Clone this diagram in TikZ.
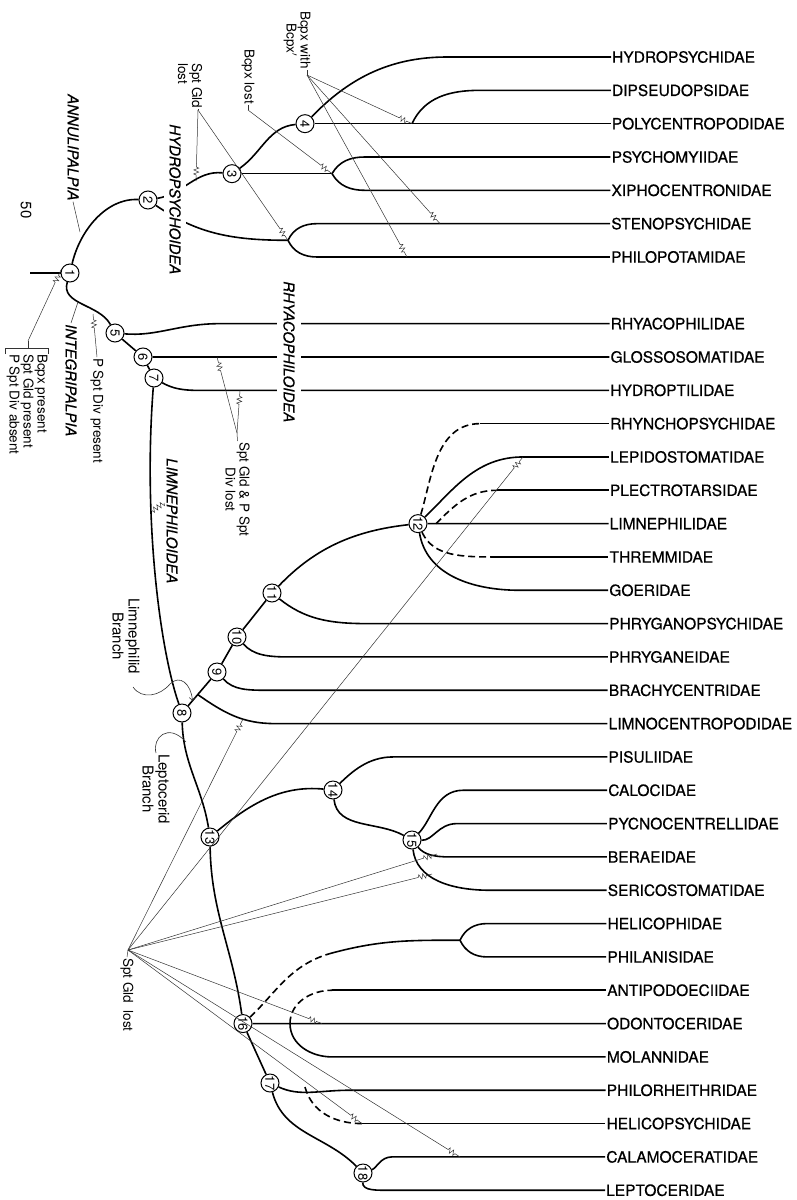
\documentclass[tikz,border=0pt]{standalone}
\usepackage{fontspec}
\setmainfont{TeX Gyre Heros}
\usetikzlibrary{calc, arrows.meta, decorations.pathmorphing}

\tikzset{
    branch/.style={line width=1.6pt},
    dashbranch/.style={branch, dash pattern=on 7pt off 4pt},
    leader/.style={line width=0.5pt, draw=black!80},
    squig/.style={decoration={zigzag, segment length=4pt, amplitude=2.5pt}},
    knot/.style={circle, draw, line width=1pt, fill=white, minimum size=18pt, inner sep=0pt, rotate=-90, font=\fontsize{13}{13}\selectfont},
    family/.style={anchor=west, inner sep=1pt, font=\fontsize{15.5}{15.5}\selectfont\addfontfeature{FakeBold=0.6}},
    superfam/.style={rotate=-90, anchor=west, inner sep=1pt, font=\fontsize{15}{15}\selectfont\itshape\addfontfeature{FakeBold=0.4}},
    note/.style={rotate=-90, anchor=west, inner sep=1pt, align=left, font=\fontsize{13.5}{14}\selectfont}
}
% thin leader ending in a small squiggle
\newcommand{\leadto}[2]{\draw[leader] (#1) -- ($(#2)!14pt!(#1)$) decorate[squig] {-- ($(#2)!5pt!(#1)$)} -- (#2);}

\begin{document}
\begin{tikzpicture}[x=1pt, y=-1pt]
\useasboundingbox (0,0) rectangle (796,1200);

% families
\foreach \slot/\fam in {1/HYDROPSYCHIDAE, 2/DIPSEUDOPSIDAE, 3/POLYCENTROPODIDAE, 4/PSYCHOMYIIDAE, 5/XIPHOCENTRONIDAE, 6/STENOPSYCHIDAE, 7/PHILOPOTAMIDAE, 9/RHYACOPHILIDAE, 10/GLOSSOSOMATIDAE, 11/HYDROPTILIDAE, 12/RHYNCHOPSYCHIDAE, 13/LEPIDOSTOMATIDAE, 14/PLECTROTARSIDAE, 15/LIMNEPHILIDAE, 16/THREMMIDAE, 17/GOERIDAE, 18/PHRYGANOPSYCHIDAE, 19/PHRYGANEIDAE, 20/BRACHYCENTRIDAE, 21/LIMNOCENTROPODIDAE, 22/PISULIIDAE, 23/CALOCIDAE, 24/PYCNOCENTRELLIDAE, 25/BERAEIDAE, 26/SERICOSTOMATIDAE, 27/HELICOPHIDAE, 28/PHILANISIDAE, 29/ANTIPODOECIIDAE, 30/ODONTOCERIDAE, 31/MOLANNIDAE, 32/PHILORHEITHRIDAE, 33/HELICOPSYCHIDAE, 34/CALAMOCERATIDAE, 35/LEPTOCERIDAE}{
    \pgfmathsetmacro{\yy}{57+33.33*(\slot-1)}
    \pgfmathsetmacro{\xx}{611-6*(\slot-1)/34}
    \node[family] (\fam) at (\xx,\yy) {\fam};
}

% numbered knots
\node[knot] (n1) at (70,273) {1};
\node[knot] (n2) at (148,200) {2};
\node[knot] (n3) at (232,173.66) {3};
\node[knot] (n4) at (305,123.66) {4};
\node[knot] (n5) at (115,333) {5};
\node[knot] (n6) at (143,356.97) {6};
\node[knot] (n7) at (154,378) {7};
\node[knot] (n8) at (182,713) {8};
\node[knot] (n9) at (217,672) {9};
\node[knot] (n10) at (237,637) {10};
\node[knot] (n11) at (272,593) {11};
\node[knot] (n12) at (418,523.62) {12};
\node[knot] (n13) at (210,837) {13};
\node[knot] (n14) at (333,790) {14};
\node[knot] (n15) at (412,840) {15};
\node[knot] (n16) at (243,1023.57) {16};
\node[knot] (n17) at (270,1083) {17};
\node[knot] (n18) at (363,1173) {18};

% fork points
\coordinate (root) at (30,273);
\coordinate (f34) at (332,173.66);
\coordinate (fdip) at (412,123.66);
\coordinate (f67) at (288,240.3);
\coordinate (f8) at ($(n8)!0.45!(n9)$);
\coordinate (fpl) at (436,523.62);
\coordinate (hdash) at (332,953);
\coordinate (fhel) at (460,940.2);
\coordinate (fmol) at (290,1023.57);
\coordinate (fhps) at (305,1087);
\coordinate (dRhy) at (RHYNCHOPSYCHIDAE.west -| 480,0);
\coordinate (dPle) at (PLECTROTARSIDAE.west -| 497,0);
\coordinate (dThr) at (THREMMIDAE.west -| 497,0);
\coordinate (dAnt) at (ANTIPODOECIIDAE.west -| 332,0);
\coordinate (dHps) at (HELICOPSYCHIDAE.west -| 362,0);

% Annulipalpia
\draw[branch] (root) -- (n1);
\draw[branch] (n1) to[out=90,in=190] (n2);
\draw[branch] (n1) to[out=-90,in=135] (n5);
\draw[branch] (n2) to[out=25,in=190] (n3);
\draw[branch] (n2) to[out=-25,in=180] (f67);
\draw[branch] (f67) to[out=65,in=180] (STENOPSYCHIDAE.west -| 317,0) -- (STENOPSYCHIDAE.west);
\draw[branch] (f67) to[out=-65,in=180] (PHILOPOTAMIDAE.west -| 317,0) -- (PHILOPOTAMIDAE.west);
\draw[branch] (n3) to[out=50,in=200] (n4);
\draw[branch] (n3) -- (f34);
\draw[branch] (f34) to[out=60,in=180] (PSYCHOMYIIDAE.west -| 365,0) -- (PSYCHOMYIIDAE.west);
\draw[branch] (f34) to[out=-60,in=180] (XIPHOCENTRONIDAE.west -| 365,0) -- (XIPHOCENTRONIDAE.west);
\draw[branch] (n4) to[out=55,in=180] (HYDROPSYCHIDAE.west -| 447,0) -- (HYDROPSYCHIDAE.west);
\draw[branch] (n4) -- (POLYCENTROPODIDAE.west);
\draw[branch] (fdip) to[out=65,in=180] (DIPSEUDOPSIDAE.west -| 480,0) -- (DIPSEUDOPSIDAE.west);

% Rhyacophiloidea
\draw[branch] (n5) -- (n6) -- (n7);
\draw[branch] (n5) to[out=8,in=180] (RHYACOPHILIDAE.west -| 220,0) -- (RHYACOPHILIDAE.west);
\draw[branch] (n6) -- (GLOSSOSOMATIDAE.west);
\draw[branch] (n7) to[out=-10,in=180] (HYDROPTILIDAE.west -| 220,0) -- (HYDROPTILIDAE.west);

% Limnephilid branch
\draw[branch] (n7) .. controls (143,520) and (160,650) .. (n8);
\draw[branch] (n8) -- (n9) -- (n10) -- (n11);
\draw[branch] (f8) to[out=-35,in=180] (LIMNOCENTROPODIDAE.west -| 275,0) -- (LIMNOCENTROPODIDAE.west);
\draw[branch] (n9) to[out=-25,in=180] (BRACHYCENTRIDAE.west -| 270,0) -- (BRACHYCENTRIDAE.west);
\draw[branch] (n10) to[out=-25,in=180] (PHRYGANEIDAE.west -| 290,0) -- (PHRYGANEIDAE.west);
\draw[branch] (n11) to[out=-25,in=180] (PHRYGANOPSYCHIDAE.west -| 367,0) -- (PHRYGANOPSYCHIDAE.west);
\draw[branch] (n11) to[out=55,in=195] (n12);
\draw[branch] (n12) -- (LIMNEPHILIDAE.west);
\draw[branch] (n12) to[out=55,in=180] (LEPIDOSTOMATIDAE.west -| 523,0) -- (LEPIDOSTOMATIDAE.west);
\draw[branch] (n12) to[out=-70,in=180] (GOERIDAE.west -| 520,0) -- (GOERIDAE.west);
\draw[dashbranch] (n12) to[out=85,in=180] (dRhy);
\draw[branch] (dRhy) -- (RHYNCHOPSYCHIDAE.west);
\draw[dashbranch] (fpl) to[out=45,in=180] (dPle);
\draw[branch] (dPle) -- (PLECTROTARSIDAE.west);
\draw[dashbranch] (n12) to[out=-50,in=180] (dThr);
\draw[branch] (dThr) -- (THREMMIDAE.west);

% Leptocerid branch
\draw[branch] (n8) to[out=-78,in=110] (n13);
\draw[branch] (n13) to[out=50,in=185] (n14);
\draw[branch] (n14) to[out=65,in=180] (PISULIIDAE.west -| 393,0) -- (PISULIIDAE.west);
\draw[branch] (n14) to[out=-70,in=165] (n15);
\draw[branch] (n15) to[out=65,in=180] (CALOCIDAE.west -| 463,0) -- (CALOCIDAE.west);
\draw[branch] (n15) to[out=25,in=180] (PYCNOCENTRELLIDAE.west -| 457,0) -- (PYCNOCENTRELLIDAE.west);
\draw[branch] (n15) to[out=-20,in=180] (BERAEIDAE.west -| 450,0) -- (BERAEIDAE.west);
\draw[branch] (n15) to[out=-70,in=180] (SERICOSTOMATIDAE.west -| 490,0) -- (SERICOSTOMATIDAE.west);
\draw[branch] (n13) to[out=-82,in=105] (n16);
\draw[dashbranch] (n16) to[out=55,in=195] (hdash);
\draw[branch] (hdash) to[out=15,in=180] (fhel);
\draw[branch] (fhel) to[out=65,in=180] (HELICOPHIDAE.west -| 487,0) -- (HELICOPHIDAE.west);
\draw[branch] (fhel) to[out=-65,in=180] (PHILANISIDAE.west -| 487,0) -- (PHILANISIDAE.west);
\draw[branch] (n16) -- (ODONTOCERIDAE.west);
\draw[branch] (fmol) to[out=-90,in=180] (MOLANNIDAE.west -| 332,0) -- (MOLANNIDAE.west);
\draw[dashbranch] (fmol) to[out=90,in=180] (dAnt);
\draw[branch] (dAnt) -- (ANTIPODOECIIDAE.west);
\draw[branch] (n16) -- (n17);
\draw[branch] (n17) to[out=-8,in=180] (PHILORHEITHRIDAE.west -| 350,0) -- (PHILORHEITHRIDAE.west);
\draw[dashbranch] (fhps) to[out=-75,in=180] (dHps);
\draw[branch] (dHps) -- (HELICOPSYCHIDAE.west);
\draw[branch] (n17) to[out=-65,in=145] (n18);
\draw[branch] (n18) to[out=60,in=180] (CALAMOCERATIDAE.west -| 392,0) -- (CALAMOCERATIDAE.west);
\draw[branch] (n18) to[out=-60,in=180] (LEPTOCERIDAE.west -| 392,0) -- (LEPTOCERIDAE.west);

% group names
\node[superfam] (lbAnnul) at (73,93) {ANNULIPALPIA};
\node[superfam] (lbInteg) at (71,323) {INTEGRIPALPIA};
\node[superfam, fill=white, inner ysep=5pt] (lbHydro) at (175,123) {HYDROPSYCHOIDEA};
\node[superfam, fill=white, inner ysep=6pt] (lbRhya) at (289,280) {RHYACOPHILOIDEA};
\node[superfam] (lbLimne) at (172,457) {LIMNEPHILOIDEA};
\node[rotate=-90, font=\fontsize{15}{15}\selectfont] (pnum) at (26,210) {50};

% character notes
\node[note, align=center] (lbBw) at (297,10) {Bcpx with\\Bcpx$'$};
\node[note] (lbBl) at (248,48) {Bcpx lost};
\node[note] (lbSgl) at (190,62) {Spt Gld\\lost};
\node[note, align=center] (lbSgd) at (237.5,441) {Spt Gld \& P Spt\\Div lost};
\node[note] (lbPsd) at (97,357) {P Spt Div present};
\node[note] (lbBrk) at (27,353) {Bcpx present\\Spt Gld present\\P Spt Div absent};
\node[note, align=center, font=\fontsize{15}{16}\selectfont] (lbLb) at (126,597) {Limnephilid\\Branch};
\node[note, align=center, font=\fontsize{15}{16}\selectfont] (lbLc) at (156,753) {Leptocerid\\Branch};
\node[note] (lbSgb) at (127,957) {Spt Gld\ \ lost};

% leader apexes and ends
\coordinate (bwa) at (307,75);
\coordinate (bla) at (248,110);
\coordinate (sga) at (198,110);
\coordinate (sda) at (237,433);
\coordinate (brk) at (28,348);
\coordinate (brk2) at (28,341);
\coordinate (sgb) at (128,950);
\coordinate (eSteno) at (STENOPSYCHIDAE.west -| 440,0);
\coordinate (ePhilo) at (PHILOPOTAMIDAE.west -| 407,0);
\coordinate (eHyd) at (196,181);
\coordinate (ePsd) at (93,314);
\coordinate (eGlos) at (GLOSSOSOMATIDAE.west -| 217,0);
\coordinate (eHptil) at (HYDROPTILIDAE.west -| 240,0);
\coordinate (eLimno) at (243,719);
\coordinate (eLepid) at (LEPIDOSTOMATIDAE.west -| 523,0);
\coordinate (eBer) at (437,854);
\coordinate (eSer) at (432,874);
\coordinate (eOdon) at (ODONTOCERIDAE.west -| 322,0);
\coordinate (eCal) at (CALAMOCERATIDAE.west -| 460,0);
\coordinate (eAnn) at (80,232);
\coordinate (eInt) at (78,302);
\coordinate (sLim) at (164,503);
\coordinate (eLim) at (152,511);
\coordinate (lbtail) at (133,687);
\coordinate (lbarr) at ($(n8)!0.3!(n9)$);
\coordinate (lcarr) at (186,742);

% leaders
\draw[leader] (lbBw.east -| bwa) -- (bwa);
\draw[leader] (lbBl.east) -- (bla);
\draw[leader] (lbSgl.east -| sga) -- (sga);
\draw[leader] (lbSgd.west) -- (sda);
\draw[leader] (lbSgb.west) -- (sgb);
\draw[leader] (lbAnnul.east) -- (eAnn);
\draw[leader] (lbInteg.west) -- (eInt);
\draw[leader] (sLim) decorate[squig] {-- (eLim)};
\draw[leader, line width=0.6pt] (5,354) -- (5,348) -- (48,348) -- (48,354);
\draw[leader] (brk) -- (brk2);
\leadto{brk2}{n1.250}
\leadto{lbPsd.west}{ePsd}
\leadto{bwa}{fdip}
\leadto{bwa}{eSteno}
\leadto{bwa}{ePhilo}
\leadto{bla}{f34}
\leadto{sga}{eHyd}
\leadto{sga}{f67}
\leadto{sda}{eGlos}
\leadto{sda}{eHptil}
\leadto{sgb}{eLimno}
\leadto{sgb}{eLepid}
\leadto{sgb}{eBer}
\leadto{sgb}{eSer}
\leadto{sgb}{eOdon}
\leadto{sgb}{dHps}
\leadto{sgb}{eCal}
\draw[leader, line width=0.6pt, -{Straight Barb[length=3pt]}] (lbtail) .. controls (142,700) and (160,696) .. (170,684) .. controls (180,674) and (191,684) .. (lbarr);
\draw[leader, line width=0.6pt] (lbLc.west) .. controls (152,738) and (168,722) .. (lcarr);

\end{tikzpicture}
\end{document}
